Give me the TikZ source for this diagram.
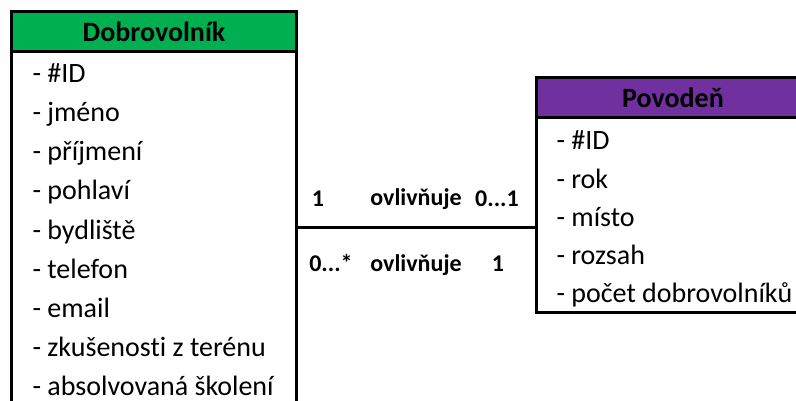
\documentclass[tikz,border=0pt]{standalone}
\usepackage{fontspec}
\setmainfont{Carlito}[Ligatures=NoCommon]
\usepackage{tikz}
\usetikzlibrary{shapes,arrows,positioning}

\definecolor{entitygreen}{RGB}{0,176,80}
\definecolor{entitypurple}{RGB}{112,48,160}

\begin{document}
\begin{tikzpicture}[line width=3pt,
	entityhead/.style={draw, rectangle, outer sep=0pt, font=\fontsize{28}{34}\selectfont\bfseries},
	entitybody/.style={draw, rectangle, outer sep=0pt, fill=white},
	attr/.style={anchor=base west, inner sep=0pt, font=\fontsize{28}{34}\selectfont},
	rolelabel/.style={anchor=base, inner sep=0pt, font=\fontsize{24}{28}\selectfont\bfseries}]
	\useasboundingbox (0pt,0pt) rectangle (796pt,-401pt);
	% Dobrovolnik
	\node [entitybody, minimum width=285pt, minimum height=390pt, anchor=north] (dobrovolnik) at (154pt,-51.5pt) {};
	\node [entityhead, fill=entitygreen, minimum width=285pt, minimum height=40pt] (dobrovolnikHead) at (154pt,-31.5pt) {Dobrovolník};
	\node [attr] (d1) at (31pt,-83pt) {- \#ID};
	\node [attr] (d2) at (31pt,-122pt) {- jméno};
	\node [attr] (d3) at (31pt,-161pt) {- příjmení};
	\node [attr] (d4) at (31pt,-200pt) {- pohlaví};
	\node [attr] (d5) at (31pt,-239.5pt) {- bydliště};
	\node [attr] (d6) at (31pt,-278.5pt) {- telefon};
	\node [attr] (d7) at (31pt,-317.5pt) {- email};
	\node [attr] (d8) at (31pt,-356.5pt) {- zkušenosti z terénu};
	\node [attr] (d9) at (31pt,-395.5pt) {- absolvovaná školení};
	% Povoden
	\node [entitybody, minimum width=273pt, minimum height=195pt, anchor=north] (povoden) at (673pt,-117.5pt) {};
	\node [entityhead, fill=entitypurple, minimum width=273pt, minimum height=39.5pt] (povodenHead) at (673pt,-97.75pt) {Povodeň};
	\node [attr] (p1) at (555pt,-150pt) {- \#ID};
	\node [attr] (p2) at (555pt,-188.5pt) {- rok};
	\node [attr] (p3) at (555pt,-226.5pt) {- místo};
	\node [attr] (p4) at (555pt,-264.5pt) {- rozsah};
	\node [attr] (p5) at (555pt,-302.5pt) {- počet dobrovolníků};
	% vazba
	\coordinate (vazba) at (0pt,-228pt);
	\draw (dobrovolnik.east |- vazba) -- (povoden.west |- vazba);
	\node [rolelabel] (r1) at (318pt,-207pt) {1};
	\node [rolelabel] (o1) at (416pt,-206pt) {ovlivňuje};
	\node [rolelabel] (r2) at (497pt,-207pt) {0...1};
	\node [rolelabel] (r3) at (331pt,-272pt) {0...*};
	\node [rolelabel] (o2) at (416pt,-272pt) {ovlivňuje};
	\node [rolelabel] (r4) at (498pt,-272pt) {1};
\end{tikzpicture}
\end{document}
